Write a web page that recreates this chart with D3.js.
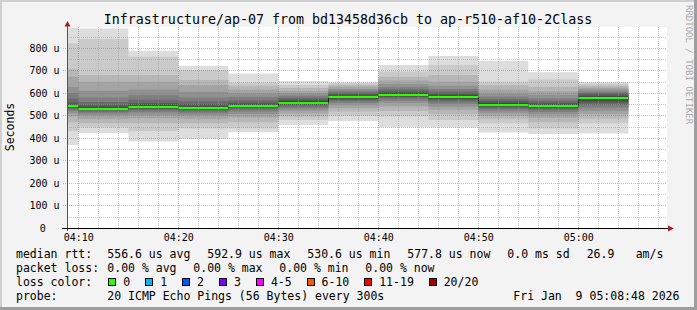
<!DOCTYPE html>
<html>
<head>
<meta charset="utf-8">
<script src="https://cdn.jsdelivr.net/npm/d3@7/dist/d3.min.js"></script>
<style>
  body { margin: 0; background: #f3f3f3; }
  text { font-family: "DejaVu Sans Mono", monospace; fill: #000; white-space: pre; }
</style>
</head>
<body>
<script>
// chart values
const title = "Infrastructure/ap-07 from bd13458d36cb to ap-r510-af10-2Class";
const stepStarts = ["04:05", "04:10", "04:15", "04:20", "04:25", "04:30", "04:35", "04:40", "04:45", "04:50", "04:55", "05:00"];
const stepEnd = "05:05";
const medians = [541, 530.6, 538.5, 533, 542, 557.5, 581, 592.9, 582, 547, 541, 577.8];
// 20 sorted ping rtts (us) per 5-minute step
const pings = [
  [369, 430, 470, 495, 510, 520, 528, 534, 538, 540, 542, 548, 558, 575, 600, 628, 672, 705, 821, 890],
  [421, 445, 465, 485, 500, 510, 518, 524, 528, 530, 531, 537, 546, 560, 580, 610, 650, 680, 840, 887],
  [384, 430, 465, 488, 503, 514, 523, 530, 535, 538, 539, 545, 555, 570, 590, 615, 650, 680, 761, 788],
  [394, 443, 465, 485, 500, 510, 518, 525, 530, 532, 534, 540, 550, 563, 580, 605, 635, 658, 702, 721],
  [425, 443, 470, 492, 507, 518, 527, 534, 539, 541, 543, 549, 557, 568, 582, 598, 615, 632, 647, 687],
  [458, 480, 495, 510, 522, 532, 540, 547, 553, 557, 558, 564, 571, 579, 588, 598, 610, 622, 636, 653],
  [475, 498, 518, 533, 546, 556, 564, 571, 576, 580, 582, 588, 595, 602, 610, 618, 627, 635, 643, 650],
  [447, 495, 520, 540, 555, 566, 575, 582, 588, 592, 594, 600, 607, 615, 625, 640, 655, 672, 695, 724],
  [446, 480, 505, 525, 540, 552, 562, 570, 576, 581, 583, 590, 598, 607, 618, 632, 650, 680, 724, 764],
  [424, 465, 485, 500, 512, 522, 530, 537, 542, 546, 548, 555, 563, 572, 583, 597, 615, 636, 650, 742],
  [418, 443, 470, 490, 505, 516, 525, 532, 537, 540, 542, 549, 557, 566, 577, 592, 608, 628, 660, 692],
  [420, 465, 487, 505, 520, 535, 547, 557, 566, 576, 579, 586, 593, 600, 607, 615, 623, 632, 641, 650]
];
const yTicks = [0, 100, 200, 300, 400, 500, 600, 700, 800];
const xTicks = ["04:10", "04:20", "04:30", "04:40", "04:50", "05:00"];
const rttStats = ["556.6 us avg", "592.9 us max", "530.6 us min", "577.8 us now", "0.0 ms sd", "26.9", "am/s"];
const lossStats = ["0.00 % avg", "0.00 % max", "0.00 % min", "0.00 % now"];
const lossLabels = ["0", "1", "2", "3", "4-5", "6-10", "11-19", "20/20"];
const lossColors = ["#26ff00", "#00b8ff", "#0059ff", "#7e00ff", "#ff00ff", "#ff5500", "#ff0000", "#a10000"];
const probeText = "20 ICMP Echo Pings (56 Bytes) every 300s";
const stamp = "Fri Jan\u00a0\u00a09 05:08:48 2026";

const W = 697, H = 310;
const pl = 67, pr = 667, pt = 27, pb = 228;

const t = s => new Date(Date.UTC(2026, 0, 9, +s.slice(0, 2), +s.slice(3, 5), +(s.slice(6, 8) || 0)));

const x = d3.scaleUtc().domain([t("04:08:52"), t("05:08:52")]).range([pl, pr]);
const y = d3.scaleLinear().domain([0, 893.3]).range([pb, pt]);

const svg = d3.select("body").append("svg")
  .attr("width", W).attr("height", H)
  .style("display", "block");

// background + frame
svg.append("rect").attr("width", W).attr("height", H).attr("fill", "#f3f3f3");
svg.append("rect").attr("x", 0).attr("y", 0).attr("width", W).attr("height", 2).attr("fill", "#cfcfcf");
svg.append("rect").attr("x", 0).attr("y", 0).attr("width", 2).attr("height", H).attr("fill", "#cfcfcf");
svg.append("rect").attr("x", W - 3).attr("y", 0).attr("width", 3).attr("height", H).attr("fill", "#9e9e9e");
svg.append("rect").attr("x", 0).attr("y", H - 3).attr("width", W).attr("height", 3).attr("fill", "#9e9e9e");

svg.append("rect").attr("x", pl).attr("y", pt)
  .attr("width", pr - pl).attr("height", pb - pt).attr("fill", "#fff");

svg.append("clipPath").attr("id", "plot")
  .append("rect").attr("x", pl + 1).attr("y", pt).attr("width", pr - pl - 1).attr("height", pb - pt);

// rows for the area generators, with a closing point at the end of the last step
const rows = stepStarts.map((s, i) => ({ t: t(s), p: pings[i], m: medians[i] }));
rows.push({ t: t(stepEnd), p: pings[pings.length - 1], m: medians[medians.length - 1] });

const g = svg.append("g").attr("clip-path", "url(#plot)");

// smoke bands, outermost (light) to innermost (dark)
const half = 10;
for (let k = 0; k < half; k++) {
  const grey = Math.floor(190 / half * (half - (k + 1))) + 50;
  const area = d3.area()
    .curve(d3.curveStepAfter)
    .x(d => x(d.t))
    .y0(d => y(d.p[k]))
    .y1(d => y(d.p[19 - k]));
  g.append("path").datum(rows)
    .attr("d", area)
    .attr("fill", d3.rgb(grey, grey, grey));
}

// median: dark step line then green per-step segments
g.append("path").datum(rows)
  .attr("d", d3.line().curve(d3.curveStepAfter).x(d => Math.round(x(d.t)) + 0.5).y(d => Math.round(y(d.m)) + 0.5))
  .attr("fill", "none").attr("stroke", "#202020").attr("stroke-width", 1);

rows.slice(0, -1).forEach((d, i) => {
  g.append("path")
    .datum([[d.t, d.m], [rows[i + 1].t, d.m]])
    .attr("d", d3.line().x(p => x(p[0])).y(p => Math.round(y(p[1]))))
    .attr("stroke", lossColors[0]).attr("stroke-width", 2);
});

// grid on top
const grid = svg.append("g");
const minorX = x.ticks(d3.utcMinute.every(2)).filter(d => d.getUTCMinutes() % 10 !== 0);
const majorX = xTicks.map(t);
const minorY = d3.range(50, 893, 100);

grid.selectAll(".vx").data(minorX).join("line")
  .attr("x1", d => Math.round(x(d)) + 0.5).attr("x2", d => Math.round(x(d)) + 0.5)
  .attr("y1", pt).attr("y2", pb)
  .attr("stroke", "rgba(150,150,150,0.5)").attr("stroke-dasharray", "1,1");
grid.selectAll(".hy").data(minorY).join("line")
  .attr("x1", pl).attr("x2", pr)
  .attr("y1", d => Math.round(y(d)) + 0.5).attr("y2", d => Math.round(y(d)) + 0.5)
  .attr("stroke", "rgba(150,150,150,0.5)").attr("stroke-dasharray", "1,1");
grid.selectAll(".mx").data(majorX).join("line")
  .attr("x1", d => Math.round(x(d)) + 0.5).attr("x2", d => Math.round(x(d)) + 0.5)
  .attr("y1", pt).attr("y2", pb + 3)
  .attr("stroke", "rgba(255,60,60,0.45)").attr("stroke-dasharray", "1,1");
grid.selectAll(".my").data(yTicks.slice(1)).join("line")
  .attr("x1", pl - 4).attr("x2", pr)
  .attr("y1", d => Math.round(y(d)) + 0.5).attr("y2", d => Math.round(y(d)) + 0.5)
  .attr("stroke", "rgba(255,60,60,0.45)").attr("stroke-dasharray", "1,1");

// axes
const xAxis = svg.append("g").attr("transform", `translate(0,${pb})`)
  .call(d3.axisBottom(x).tickValues(majorX).tickFormat(d3.utcFormat("%H:%M")).tickSize(0).tickPadding(6));
xAxis.select(".domain").remove();
xAxis.selectAll("text").style("font-size", "10px");

const yAxis = svg.append("g").attr("transform", `translate(${pl},0)`)
  .call(d3.axisLeft(y).tickValues(yTicks).tickFormat(d => d ? d + " u" : "0").tickSize(0).tickPadding(7.5));
yAxis.select(".domain").remove();
yAxis.selectAll("text").style("font-size", "10px")
  .attr("x", d => d ? -7.5 : -21.3);

svg.append("line").attr("x1", pl + 0.5).attr("x2", pl + 0.5)
  .attr("y1", pb + 3).attr("y2", pt - 3).attr("stroke", "#555");
svg.append("line").attr("x1", pl - 5).attr("x2", pr + 3)
  .attr("y1", pb + 0.5).attr("y2", pb + 0.5).attr("stroke", "#000");
svg.append("path").attr("d", `M${pl - 2.5},${pt - 0.5}L${pl + 3.5},${pt - 0.5}L${pl + 0.5},${pt - 6}Z`)
  .attr("fill", "#a52020");
svg.append("path").attr("d", `M${pr + 1},${pb - 2.5}L${pr + 1},${pb + 3.5}L${pr + 7},${pb + 0.5}Z`)
  .attr("fill", "#a52020");

// titles
svg.append("text").attr("x", 348).attr("y", 24).attr("text-anchor", "middle")
  .style("font-size", "13.3px").text(title);
svg.append("text").attr("transform", `translate(14,127) rotate(-90)`).attr("text-anchor", "middle")
  .style("font-size", "11.5px").text("Seconds");
svg.append("text").attr("transform", `translate(686,5) rotate(90)`)
  .style("font-size", "9px").style("fill", "#aaa").text("RRDTOOL / TOBI OETIKER");

// legend
const lg = svg.append("g").style("font-size", "11.5px");
const row1 = [107.3, 207.3, 307.3, 407.3, 507.3, 586.7, 635.7];
const row2 = [107.3, 193.3, 279.3, 365.3];
lg.append("text").attr("x", 16).attr("y", 258).text("median rtt:");
rttStats.forEach((s, i) => lg.append("text").attr("x", row1[i]).attr("y", 258).text(s));
lg.append("text").attr("x", 16).attr("y", 272).text("packet loss:");
lossStats.forEach((s, i) => lg.append("text").attr("x", row2[i]).attr("y", 272).text(s));
lg.append("text").attr("x", 16).attr("y", 286).text("loss color:");
let bx = 108.3;
lossLabels.forEach((s, i) => {
  lg.append("rect").attr("x", Math.round(bx) + 0.5).attr("y", 278.5).attr("width", 7).attr("height", 7)
    .attr("fill", lossColors[i]).attr("stroke", "#000");
  lg.append("text").attr("x", bx + 15).attr("y", 286).text(s);
  bx = bx + 15 + s.length * 6.9 + 15;
});
lg.append("text").attr("x", 16).attr("y", 300).text("probe:");
lg.append("text").attr("x", 107.3).attr("y", 300).text(probeText);
lg.append("text").attr("x", 513.3).attr("y", 300).text(stamp);
</script>
</body>
</html>
